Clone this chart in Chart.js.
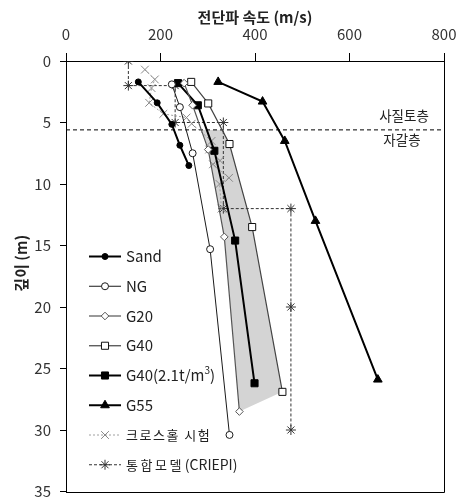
<!DOCTYPE html>
<html><head><meta charset="utf-8">
<script src="https://cdn.jsdelivr.net/npm/chart.js@4.4.0/dist/chart.umd.min.js"></script>
<style>html,body{margin:0;padding:0;background:#fff;}canvas{display:block;}</style>
</head><body>
<canvas id="c" width="461" height="498"></canvas>
<script>
const FONT = '"Noto Sans CJK KR", "Noto Sans", sans-serif';
const xTitle = '전단파 속도 (m/s)';
const yTitle = '깊이 (m)';
const xRange = [0, 800], xStep = 200;
const yRange = [0, 35], yStep = 5;

const seriesNames = ['Sand', 'NG', 'G20', 'G40', 'G40(2.1t/m3)', 'G55', '크로스홀 시험', '통합모델 (CRIEPI)'];

const sandVel   = [153, 193, 224, 241, 260];
const sandDepth = [1.7, 3.4, 5.15, 6.85, 8.5];
const ngVel     = [224, 241, 268, 305, 346];
const ngDepth   = [1.9, 3.75, 7.5, 15.3, 30.4];
const g20Vel    = [250, 268, 301, 335, 367];
const g20Depth  = [1.8, 3.6, 7.2, 14.3, 28.5];
const g40Vel    = [265, 301, 346, 394, 458];
const g40Depth  = [1.7, 3.45, 6.75, 13.5, 26.9];
const g40dVel   = [237, 279, 314, 358, 399];
const g40dDepth = [1.8, 3.6, 7.3, 14.6, 26.2];
const g55Vel    = [322, 416, 463, 528, 660];
const g55Depth  = [1.7, 3.3, 6.5, 13.0, 25.9];
const crossVel   = [167, 188, 181, 176, 206, 255, 266, 308, 303, 326, 311, 345, 325, 329];
const crossDepth = [0.7, 1.5, 2.2, 3.4, 4.3, 4.6, 5.1, 6.5, 7.2, 8.1, 8.4, 9.5, 10.0, 12.0];
const criepiVel   = [132, 132, 231, 231, 333, 333, 476, 476, 476];
const criepiDepth = [0, 2, 2, 5, 5, 12, 12, 20, 30];
const boundaryDepth = 5.6;
const bandTopVel = [287, 333];   // shaded band edges at the layer boundary (G20 side, G40 side)
const layerLabels = ['사질토층', '자갈층'];

const pts = (xs, ys) => xs.map((v, i) => ({x: v, y: ys[i]}));
const below = (xs, ys) => pts(xs, ys).filter(p => p.y > boundaryDepth);
const bandPts = [{x: bandTopVel[0], y: boundaryDepth}]
  .concat(below(g20Vel, g20Depth))
  .concat(below(g40Vel, g40Depth).reverse())
  .concat([{x: bandTopVel[1], y: boundaryDepth}]);

function ds(label, xs, ys, o) {
  return Object.assign({label, data: pts(xs, ys), showLine: true, fill: false, tension: 0}, o);
}

const datasets = [
  ds(seriesNames[0], sandVel, sandDepth, {borderColor:'#000', borderWidth:2, pointStyle:'circle', pointRadius:3, pointBackgroundColor:'#000', pointBorderColor:'#000', pointBorderWidth:1}),
  ds(seriesNames[1], ngVel, ngDepth, {borderColor:'#1a1a1a', borderWidth:1, pointStyle:'circle', pointRadius:3.5, pointBackgroundColor:'#fff', pointBorderColor:'#1a1a1a', pointBorderWidth:1}),
  ds(seriesNames[2], g20Vel, g20Depth, {borderColor:'#555', borderWidth:1.2, pointStyle:'rectRot', pointRadius:3.8, pointBackgroundColor:'#fff', pointBorderColor:'#555', pointBorderWidth:1}),
  ds(seriesNames[3], g40Vel, g40Depth, {borderColor:'#444', borderWidth:1.2, pointStyle:'rect', pointRadius:5, pointBackgroundColor:'#fff', pointBorderColor:'#111', pointBorderWidth:1}),
  ds(seriesNames[4], g40dVel, g40dDepth, {borderColor:'#000', borderWidth:2, pointStyle:'rect', pointRadius:5, pointBackgroundColor:'#000', pointBorderColor:'#000', pointBorderWidth:1}),
  ds(seriesNames[5], g55Vel, g55Depth, {borderColor:'#000', borderWidth:2, pointStyle:'triangle', pointRadius:5, pointBackgroundColor:'#000', pointBorderColor:'#000', pointBorderWidth:1}),
  ds(seriesNames[6], crossVel, crossDepth, {borderColor:'#a0a0a0', borderWidth:1, borderDash:[2,2], pointStyle:'crossRot', pointRadius:5.5, pointBackgroundColor:'#888', pointBorderColor:'#888', pointBorderWidth:1}),
  ds(seriesNames[7], criepiVel, criepiDepth, {borderColor:'#333', borderWidth:1, borderDash:[3,2], pointStyle:'star', pointRadius:5, pointBackgroundColor:'#333', pointBorderColor:'#333', pointBorderWidth:1}),
  {label:'boundary', data:[{x:xRange[0], y:boundaryDepth},{x:xRange[1], y:boundaryDepth}], showLine:true, borderColor:'#000', borderWidth:1, borderDash:[4,3], pointRadius:0, order:5},
  {label:'band', data: bandPts, showLine:true, fill:'shape', backgroundColor:'#d4d4d4', borderWidth:0, borderColor:'rgba(0,0,0,0)', pointRadius:0, order:10}
];

const legendOrder = [0,1,2,3,4,5,6,7];

const framePlugin = {
  id: 'frame',
  afterDraw(chart) {
    const {ctx, chartArea: a} = chart;
    ctx.save();
    ctx.strokeStyle = '#000'; ctx.lineWidth = 1;
    ctx.beginPath();
    const r = Math.round(a.right) + 0.5, b = Math.round(a.bottom) + 0.5;
    ctx.moveTo(r, a.top); ctx.lineTo(r, b); ctx.lineTo(a.left, b);
    ctx.stroke();
    // y-axis title
    ctx.fillStyle = '#222';
    ctx.font = 'bold 15px ' + FONT;
    ctx.textAlign = 'center'; ctx.textBaseline = 'middle';
    ctx.translate(21, (a.top + a.bottom) / 2 - 13);
    ctx.rotate(-Math.PI / 2);
    ctx.fillText(yTitle, 0, 0);
    ctx.restore();
  }
};

const annotPlugin = {
  id: 'annot',
  afterDatasetsDraw(chart) {
    const {ctx, chartArea: a, scales} = chart;
    const yb = scales.y.getPixelForValue(boundaryDepth);
    ctx.save();
    ctx.fillStyle = '#222';
    ctx.font = '13.5px ' + FONT;
    ctx.textAlign = 'center'; ctx.textBaseline = 'middle';
    ctx.fillText(layerLabels[0], a.right - 40, yb - 14.5);
    ctx.fillText(layerLabels[1], a.right - 42, yb + 9.5);

    // legend
    const x0 = a.left + 23, x1 = a.left + 55, xm = (x0 + x1) / 2, tx = a.left + 60;
    legendOrder.forEach((di, i) => {
      const d = chart.data.datasets[di];
      const y = 256.5 + i * 29.75;
      ctx.save();
      ctx.strokeStyle = d.borderColor; ctx.lineWidth = d.borderWidth;
      ctx.setLineDash(d.borderDash || []);
      ctx.beginPath(); ctx.moveTo(x0, y); ctx.lineTo(x1, y); ctx.stroke();
      ctx.setLineDash([]);
      ctx.fillStyle = d.pointBackgroundColor; ctx.strokeStyle = d.pointBorderColor; ctx.lineWidth = d.pointBorderWidth;
      Chart.helpers.drawPoint(ctx, {pointStyle: d.pointStyle, radius: d.pointRadius, rotation: 0, borderWidth: d.pointBorderWidth}, xm, y);
      ctx.fillStyle = '#222';
      ctx.textAlign = 'left'; ctx.textBaseline = 'middle';
      const name = d.label;
      if (i === 6) {
        ctx.font = '13px ' + FONT;
        try { ctx.letterSpacing = '1.5px'; } catch (e) {}
        ctx.fillText(name, tx, y);
        try { ctx.letterSpacing = '0px'; } catch (e) {}
      } else if (i === 7) {
        const sp = name.indexOf(' ');
        const kor = name.slice(0, sp), lat = name.slice(sp);
        ctx.font = '13px ' + FONT;
        try { ctx.letterSpacing = '2.5px'; } catch (e) {}
        ctx.fillText(kor, tx, y);
        const w = ctx.measureText(kor).width;
        try { ctx.letterSpacing = '0px'; } catch (e) {}
        ctx.font = '14px ' + FONT;
        ctx.fillText(lat.trim(), tx + w + 1, y);
      } else if (name.endsWith('m3)')) {
        ctx.font = '15px ' + FONT;
        const base = name.slice(0, -2);
        ctx.fillText(base, tx, y);
        let w = ctx.measureText(base).width;
        ctx.font = '10px ' + FONT;
        ctx.fillText('3', tx + w, y - 5);
        w += ctx.measureText('3').width;
        ctx.font = '15px ' + FONT;
        ctx.fillText(')', tx + w, y);
      } else {
        ctx.font = '15px ' + FONT;
        ctx.fillText(name, tx, y);
      }
      ctx.restore();
    });
    ctx.restore();
  }
};

new Chart(document.getElementById('c'), {
  type: 'scatter',
  data: {datasets},
  options: {
    responsive: false,
    animation: false,
    events: [],
    layout: {padding: {left: 0, top: 0, right: 17, bottom: 6}},
    plugins: {legend: {display: false}, tooltip: {enabled: false}},
    scales: {
      x: {
        type: 'linear', position: 'top', min: xRange[0], max: xRange[1],
        ticks: {stepSize: xStep, color: '#333', font: {family: FONT, size: 15}, padding: 10, maxRotation: 0},
        grid: {drawOnChartArea: false, tickLength: 8, color: '#000'},
        border: {color: '#000', width: 1},
        title: {display: true, text: xTitle, color: '#222', font: {family: FONT, size: 15, weight: 'bold'}, padding: {top: 8, bottom: 0}},
        afterFit(s) { s.height = 61; s.paddingLeft = 0; s.paddingRight = 0; }
      },
      y: {
        type: 'linear', reverse: true, min: yRange[0], max: yRange[1],
        ticks: {stepSize: yStep, color: '#333', font: {family: FONT, size: 15}, padding: 9},
        grid: {drawOnChartArea: false, tickLength: 6, color: '#000'},
        border: {color: '#000', width: 1},
        title: {display: false, text: yTitle},
        afterFit(s) { s.width = 66; s.paddingTop = 0; s.paddingBottom = 0; }
      }
    }
  },
  plugins: [framePlugin, annotPlugin]
});
</script>
</body></html>
